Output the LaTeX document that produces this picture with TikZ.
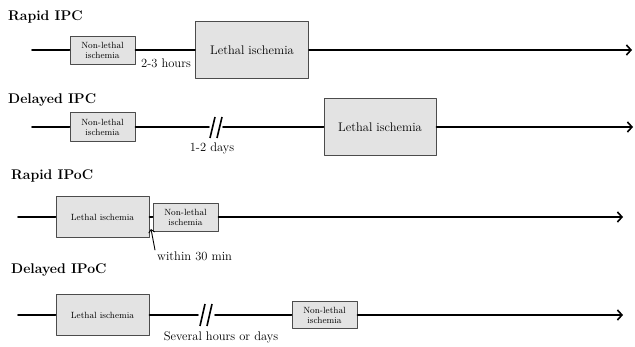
\documentclass[tikz,border=0pt]{standalone}
\usetikzlibrary{arrows.meta,shadows}
\begin{document}
\begin{tikzpicture}[x=1pt,y=-1pt,line cap=round,line join=round,
  tline/.style={line width=1.6pt},
  tarrow/.style={line width=1.6pt,-{Straight Barb[length=4.5pt,width=10pt,line width=1.6pt]}},
  ibox/.style={draw=black!70,fill=black!11,line width=0.9pt,inner sep=0pt,align=center,
    drop shadow={shadow xshift=0.8pt,shadow yshift=-0.8pt,opacity=0.25}},
  smalltxt/.style={font=\fontsize{9}{10}\selectfont},
  midtxt/.style={font=\fontsize{9}{10}\selectfont},
  bigtxt/.style={font=\fontsize{12.5}{14}\selectfont},
  rowtitle/.style={anchor=west,inner sep=0pt,font=\fontsize{14}{16}\selectfont\bfseries},
  lbl/.style={inner sep=0pt,font=\fontsize{12.5}{14}\selectfont},
  brkline/.style={line width=1.6pt,line cap=butt}]
  \useasboundingbox (0,0) rectangle (635,347);

  % Rapid IPC
  \node[rowtitle] (t1) at (8,17) {Rapid IPC};
  \coordinate (s1) at (32,50);
  \coordinate (e1) at (632,50);
  \node[ibox,smalltxt,minimum width=65,minimum height=28] (nl1) at (102.5,50) {Non-lethal\\ischemia};
  \node[ibox,bigtxt,minimum width=113,minimum height=57] (le1) at (252,50) {Lethal ischemia};
  \draw[tline] (s1) -- (nl1.west);
  \draw[tline] (nl1.east) -- (le1.west);
  \draw[tarrow] (le1.east) -- (e1);
  \node[lbl] (h1) at (166,63) {2-3 hours};

  % Delayed IPC
  \node[rowtitle] (t2) at (8,100) {Delayed IPC};
  \coordinate (s2) at (32,127);
  \coordinate (e2) at (633,127);
  \coordinate (b2) at (216,127);
  \node[ibox,smalltxt,minimum width=65,minimum height=29] (nl2) at (102.5,127) {Non-lethal\\ischemia};
  \node[ibox,bigtxt,minimum width=112,minimum height=57] (le2) at (380,127) {Lethal ischemia};
  \draw[tline] (s2) -- (nl2.west);
  \draw[tline] (nl2.east) -- ([xshift=-7]b2);
  \draw[tline] ([xshift=7]b2) -- (le2.west);
  \draw[brkline] ([shift={(-6,11)}]b2) -- ++(5,-21);
  \draw[brkline] ([shift={(1,11)}]b2) -- ++(5,-21);
  \draw[tarrow] (le2.east) -- (e2);
  \node[lbl] (h2) at (212,148) {1-2 days};

  % Rapid IPoC
  \node[rowtitle] (t3) at (11,176) {Rapid IPoC};
  \coordinate (s3) at (18,217);
  \coordinate (e3) at (623,217);
  \node[ibox,midtxt,minimum width=93,minimum height=41] (le3) at (102.5,217) {Lethal ischemia};
  \node[ibox,smalltxt,minimum width=65,minimum height=28] (nl3) at (185.5,217) {Non-lethal\\ischemia};
  \draw[tline] (s3) -- (le3.west);
  \draw[tline] (le3.east) -- (nl3.west);
  \draw[tarrow] (nl3.east) -- (e3);
  \node[lbl,anchor=west] (h3) at (157,256) {within 30 min};
  \coordinate (gap3) at (151,229);
  \draw[line width=0.9pt,-{Straight Barb[length=3pt,width=6pt]}] ([shift={(-2,-6)}]h3.west) -- (gap3);

  % Delayed IPoC
  \node[rowtitle] (t4) at (11,270) {Delayed IPoC};
  \coordinate (s4) at (18,315);
  \coordinate (e4) at (623,315);
  \coordinate (b4) at (206,315);
  \node[ibox,midtxt,minimum width=93,minimum height=41] (le4) at (102.5,315) {Lethal ischemia};
  \node[ibox,smalltxt,minimum width=65,minimum height=27] (nl4) at (324.5,315) {Non-lethal\\ischemia};
  \draw[tline] (s4) -- (le4.west);
  \draw[tline] (le4.east) -- ([xshift=-8]b4);
  \draw[tline] ([xshift=9]b4) -- (nl4.west);
  \draw[brkline] ([shift={(-6,11)}]b4) -- ++(5,-22);
  \draw[brkline] ([shift={(1,11)}]b4) -- ++(5,-22);
  \draw[tarrow] (nl4.east) -- (e4);
  \node[lbl] (h4) at (221,337) {Several hours or days};
\end{tikzpicture}
\end{document}
